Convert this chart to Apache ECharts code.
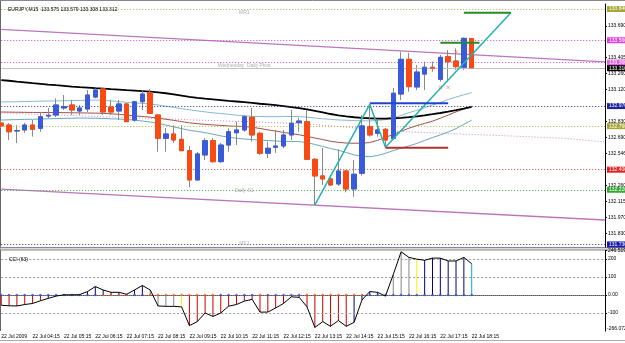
<!DOCTYPE html>
<html lang="en">
<head>
<meta charset="UTF-8">
<title>EURJPY,M15</title>
<style>
    html, body { margin: 0; padding: 0; background: #fff; }
    #main { width: 625px; height: 343px; }
</style>
</head>
<body>
<div id="main"></div>
<script src="https://cdn.jsdelivr.net/npm/echarts@6/dist/echarts.min.js"></script>
<script>
    var timeLabels = ['22 Jul 2009', '22 Jul 04:15', '22 Jul 05:15', '22 Jul 06:15', '22 Jul 07:15',
        '22 Jul 08:15', '22 Jul 09:15', '22 Jul 10:15', '22 Jul 11:15', '22 Jul 12:15', '22 Jul 13:15',
        '22 Jul 14:15', '22 Jul 15:15', '22 Jul 16:15', '22 Jul 17:15', '22 Jul 18:15'];

    // [open, close, low, high], 15 min bars from 03:15 to 18:15
    var ohlc = [
        [132.818, 132.792, 132.774, 132.845], [132.800, 132.740, 132.666, 132.818],
        [132.747, 132.751, 132.639, 132.800], [132.756, 132.800, 132.731, 132.821],
        [132.800, 132.762, 132.696, 132.845], [132.771, 132.875, 132.740, 132.908],
        [132.881, 132.886, 132.863, 132.953], [132.890, 132.980, 132.872, 133.040],
        [132.953, 132.966, 132.935, 133.069], [132.980, 132.935, 132.890, 133.025],
        [132.926, 132.953, 132.890, 132.980], [132.944, 133.069, 132.917, 133.114],
        [133.051, 133.114, 133.040, 133.129], [133.123, 132.917, 132.890, 133.129],
        [132.962, 132.917, 132.890, 133.025], [132.926, 132.989, 132.845, 133.025],
        [132.989, 132.830, 132.827, 132.998], [132.845, 133.009, 132.830, 133.016],
        [133.009, 133.078, 132.935, 133.114], [133.090, 132.905, 132.899, 133.123],
        [132.890, 132.681, 132.561, 132.899], [132.681, 132.720, 132.561, 132.774],
        [132.720, 132.666, 132.639, 132.800], [132.672, 132.570, 132.568, 132.800],
        [132.570, 132.308, 132.242, 132.612], [132.308, 132.541, 132.301, 132.559],
        [132.532, 132.660, 132.487, 132.684], [132.660, 132.472, 132.460, 132.684],
        [132.472, 132.621, 132.460, 132.639], [132.621, 132.740, 132.561, 132.771],
        [132.731, 132.756, 132.621, 132.830], [132.756, 132.875, 132.740, 132.890],
        [132.870, 132.711, 132.651, 132.953], [132.726, 132.547, 132.532, 132.740],
        [132.547, 132.592, 132.505, 132.651], [132.601, 132.612, 132.550, 132.756],
        [132.612, 132.711, 132.592, 132.756], [132.711, 132.816, 132.666, 132.935],
        [132.821, 132.836, 132.740, 132.863], [132.830, 132.493, 132.487, 132.935],
        [132.493, 132.344, 132.084, 132.505], [132.344, 132.317, 132.263, 132.594],
        [132.317, 132.263, 132.254, 132.352], [132.272, 132.388, 132.254, 132.583],
        [132.388, 132.227, 132.197, 132.397], [132.227, 132.359, 132.158, 132.487],
        [132.368, 132.792, 132.346, 132.890], [132.785, 132.711, 132.696, 132.985],
        [132.726, 132.756, 132.696, 132.845], [132.762, 132.666, 132.601, 132.774],
        [132.681, 133.085, 132.666, 133.132], [133.078, 133.389, 133.025, 133.457],
        [133.389, 133.144, 133.099, 133.448], [133.141, 133.275, 133.114, 133.338],
        [133.257, 133.318, 133.114, 133.368], [133.318, 133.309, 133.278, 133.368],
        [133.210, 133.407, 133.189, 133.428], [133.413, 133.368, 133.189, 133.473],
        [133.374, 133.323, 133.293, 133.488], [133.318, 133.577, 133.293, 133.586],
        [133.575, 133.312, 133.308, 133.579]
    ];

    // moving averages
    var maBlack = [133.203, 133.197, 133.189, 133.183, 133.176, 133.170, 133.163, 133.157, 133.152, 133.145,
        133.140, 133.136, 133.131, 133.127, 133.122, 133.118, 133.113, 133.109, 133.104, 133.099,
        133.093, 133.085, 133.075, 133.064, 133.053, 133.043, 133.036, 133.030, 133.024, 133.017,
        133.011, 133.005, 132.999, 132.991, 132.985, 132.978, 132.970, 132.961, 132.952, 132.940,
        132.927, 132.913, 132.899, 132.887, 132.878, 132.870, 132.865, 132.861, 132.858, 132.858,
        132.861, 132.865, 132.871, 132.878, 132.887, 132.897, 132.908, 132.920, 132.933, 132.947, 132.964];
    var maBrown = [132.917, 132.916, 132.915, 132.914, 132.913, 132.913, 132.912, 132.912, 132.911, 132.910,
        132.909, 132.908, 132.907, 132.905, 132.901, 132.896, 132.889, 132.883, 132.877, 132.871,
        132.862, 132.852, 132.842, 132.831, 132.820, 132.812, 132.807, 132.801, 132.797, 132.792,
        132.789, 132.786, 132.781, 132.769, 132.757, 132.746, 132.734, 132.723, 132.713, 132.699,
        132.684, 132.670, 132.655, 132.645, 132.639, 132.637, 132.637, 132.643, 132.663, 132.689,
        132.717, 132.745, 132.772, 132.795, 132.815, 132.835, 132.861, 132.889, 132.918, 132.944, 132.969];
    var maLightA = [133.007, 133.008, 133.009, 133.011, 133.012, 133.014, 133.016, 133.016, 133.018, 133.019,
        133.021, 133.022, 133.024, 133.023, 133.016, 133.010, 133.004, 132.999, 132.994, 132.989,
        132.980, 132.969, 132.958, 132.947, 132.937, 132.927, 132.918, 132.910, 132.903, 132.896,
        132.889, 132.883, 132.878, 132.876, 132.875, 132.875, 132.876, 132.877, 132.876, 132.870,
        132.863, 132.856, 132.851, 132.846, 132.843, 132.840, 132.838, 132.837, 132.841, 132.849,
        132.863, 132.885, 132.911, 132.932, 132.955, 132.980, 133.002, 133.029, 133.051, 133.071, 133.090];
    var maLightB = [132.845, 132.847, 132.849, 132.851, 132.852, 132.854, 132.856, 132.858, 132.860, 132.861,
        132.863, 132.862, 132.861, 132.859, 132.856, 132.854, 132.850, 132.844, 132.836, 132.827,
        132.816, 132.800, 132.784, 132.768, 132.753, 132.743, 132.732, 132.718, 132.703, 132.691,
        132.682, 132.675, 132.670, 132.665, 132.661, 132.657, 132.654, 132.653, 132.651, 132.643,
        132.626, 132.608, 132.590, 132.574, 132.554, 132.533, 132.521, 132.516, 132.527, 132.547,
        132.571, 132.593, 132.613, 132.635, 132.662, 132.688, 132.712, 132.738, 132.768, 132.806, 132.844];

    // drawn objects: [bar index, price]
    var channelTop = [[0, 133.657], [77, 133.366]];
    var channelBottom = [[0, 132.226], [77, 131.949]];
    var pinkCurve = [[0, 132.908], [25, 132.845], [38, 132.814], [52, 132.738], [65, 132.702], [72, 132.680], [77, 132.648]];
    var zigzag = [[40, 132.084], [47, 132.985], [49, 132.601], [65, 133.807]];
    var greenTop = [[59, 133.807], [65, 133.807]];
    var greenMid = [[56, 133.538], [61, 133.538]];
    var blueBar = [[47, 132.995], [57, 132.995]];
    var redBar = [[49, 132.597], [57, 132.597]];
    var fractals = [[56, 133.138], [57, 133.138], [58, 133.457]];
    var notes = [[31, 133.804, 'MR1'], [31, 133.329, 'Wednesday  Daily Pivot'],
        [31, 132.209, 'Daily S1'], [31, 131.734, 'MS1']];

    // horizontal levels
    var levelPrices = [133.841, 133.560, 133.356, 132.970, 132.790, 132.400, 132.224, 131.730, 133.312];
    var levelColors = ['#b0b040', '#c848c8', '#c848c8', '#303090', '#b0b040', '#a85050', '#40a040', '#3030a8', '#c0c0c0'];
    var levelBoxColors = ['#a6a632', '#e040e0', '#e060e0', '#22229a', '#a6a632', '#e02020', '#33aa33', '#1a1ab0', '#000000'];

    var priceTicks = [133.690, 133.405, 133.260, 133.120, 132.830, 132.690, 132.546, 132.260, 132.115, 131.970, 131.830];

    // CCI (63)
    var cci = [-57, -60, -61, -53, -47, -32, -19, -6, 1, 1, 2, 19, 47, 28, 15, 15, 4, 28, 53, 28,
        -61, -63, -63, -66, -170, -148, -100, -119, -100, -62, -53, -34, -24, -95, -95, -72, -47, -10, -13, -66,
        -180, -148, -174, -142, -174, -152, -28, 19, 15, -6, 114, 240, 209, 199, 193, 205, 205, 189, 189, 209, 174];
    var cciBarState = 'rrrrrrnnnnnnnnnnnnnggggyrrrrrrrrrrrrrrrrrrrrrnnnnggggynnnnnn';
    var cciDotState = 'bbbbbbbbbbbbboooobbooooooooobbbbbobbbbboooooooobbbbbbbbbbbbbbo';
    var cciTicks = [246.5194, 200, 100, 0, -100];
    var cciLevels = [200, 100, -100];

    var FONT = 'Liberation Sans';
    var N = 78;
    var cats = [];
    for (var i = 0; i < N; i++) cats.push('b' + i);

    var bodies = ohlc.map(function (d) {
        return [d[0], d[1], Math.min(d[0], d[1]), Math.max(d[0], d[1])];
    });

    var barColors = {r: '#c40000', n: '#00007a', g: '#858585', y: '#f4f400'};
    var dotColors = {b: '#3050e0', o: '#ff5010'};

    var levelData = levelPrices.map(function (p, k) {
        return {
            yAxis: p,
            lineStyle: {color: levelColors[k], width: 1, type: k === 8 ? 'solid' : [1, 2]},
            label: {backgroundColor: levelBoxColors[k]}
        };
    });
    levelData.splice(6, 0, {
        yAxis: 132.400,
        lineStyle: {opacity: 0},
        label: {position: 'insideEndTop', formatter: '(888.8) - 132.388', color: '#a05050',
            backgroundColor: 'transparent', padding: [0, 10, 0, 0], distance: 1}
    });

    function seg(data, color, width, type) {
        return {
            type: 'line', xAxisIndex: 0, yAxisIndex: 0, data: data, symbol: 'none', silent: true,
            lineStyle: {color: color, width: width, type: type || 'solid'}, z: 3
        };
    }

    var myChart = echarts.init(document.getElementById('main'));

    var option = {
        animation: false,
        backgroundColor: '#fff',
        title: [
            {text: 'EURJPY,M15  133.575 133.579 133.308 133.312', left: 3, top: 2,
                textStyle: {fontSize: 5, fontWeight: 'normal', color: '#000', fontFamily: FONT}},
            {text: 'CCI (63)', left: 4, top: 252,
                textStyle: {fontSize: 5, fontWeight: 'normal', color: '#000', fontFamily: FONT}}
        ],
        grid: [
            {left: 1.22, right: 20, top: 4, bottom: 96, outerBoundsMode: 'none'},
            {left: 1.22, right: 20, top: 250.5, bottom: 12, outerBoundsMode: 'none'}
        ],
        xAxis: [
            {
                gridIndex: 0, type: 'category', data: cats, boundaryGap: false,
                axisLine: {show: false}, axisTick: {show: false}, axisLabel: {show: false}, splitLine: {show: false}
            },
            {
                gridIndex: 1, type: 'category', data: cats, boundaryGap: false,
                axisLine: {lineStyle: {color: '#555', type: [1, 1]}},
                axisTick: {show: false},
                axisLabel: {
                    interval: 3, align: 'left', fontSize: 5, margin: 3, color: '#000', fontFamily: FONT,
                    formatter: function (v, idx) {
                        return (idx % 4 === 0 && idx / 4 < timeLabels.length) ? timeLabels[idx / 4] : '';
                    }
                },
                splitLine: {show: false}
            }
        ],
        yAxis: [
            {
                gridIndex: 0, type: 'value', position: 'right', min: 131.707, max: 133.885,
                splitLine: {show: false},
                axisLine: {show: true, lineStyle: {color: '#000'}},
                axisTick: {show: true, length: 2, customValues: priceTicks, lineStyle: {color: '#000'}},
                axisLabel: {
                    customValues: priceTicks, fontSize: 5, margin: 3, color: '#000', fontFamily: FONT,
                    formatter: function (v) { return v.toFixed(3); }
                }
            },
            {
                gridIndex: 1, type: 'value', position: 'right', min: -200, max: 247.2,
                splitLine: {show: false},
                axisLine: {show: true, lineStyle: {color: '#000'}},
                axisTick: {show: true, length: 2, customValues: cciTicks, lineStyle: {color: '#000'}},
                axisLabel: {
                    customValues: cciTicks, fontSize: 5, margin: 3, color: '#000', fontFamily: FONT,
                    formatter: function (v) {
                        if (v === 0) return '0.00';
                        if (v > 240) return '246.5194';
                        return String(v);
                    }
                }
            }
        ],
        series: [
            seg(channelTop, '#bb77bb', 1.3),
            seg(channelBottom, '#bb77bb', 1.3),
            seg(pinkCurve, '#cc88cc', 1, [1, 2]),
            seg(maLightA, '#88bbcc', 1),
            seg(maLightB, '#6aa6c0', 1),
            seg(maBrown, '#a0524d', 1),
            seg(maBlack, '#000000', 1.8),
            {
                name: 'wicks', type: 'candlestick', xAxisIndex: 0, yAxisIndex: 0, data: ohlc,
                barWidth: 5, silent: true, z: 4,
                itemStyle: {color: 'transparent', color0: 'transparent', borderColor: '#8a8a8a', borderColor0: '#8a8a8a', borderWidth: 1},
                markLine: {
                    symbol: 'none', silent: true, animation: false,
                    label: {
                        position: 'end', distance: 2, fontSize: 5, color: '#fff', fontFamily: FONT,
                        padding: [1, 3, 0, 2],
                        formatter: function (p) { return Number(p.value).toFixed(3); }
                    },
                    data: levelData
                }
            },
            {
                name: 'bodies', type: 'candlestick', xAxisIndex: 0, yAxisIndex: 0, data: bodies,
                barWidth: 5, silent: true, z: 5,
                itemStyle: {color: '#3a5bd9', color0: '#fa4a14', borderColor: '#3a5bd9', borderColor0: '#fa4a14', borderWidth: 1}
            },
            Object.assign(seg(zigzag, '#22b3b3', 1.5), {z: 6}),
            Object.assign(seg(greenTop, '#2a8a2a', 2), {z: 6}),
            Object.assign(seg(greenMid, '#2a8a2a', 2), {z: 6}),
            Object.assign(seg(blueBar, '#2244cc', 2), {z: 6}),
            Object.assign(seg(redBar, '#b03030', 2), {z: 6}),
            {
                type: 'scatter', xAxisIndex: 0, yAxisIndex: 0, data: fractals, silent: true, z: 7,
                symbol: 'path://M0,1L1,0L5,4L9,0L10,1L6,5L10,9L9,10L5,6L1,10L0,9L4,5Z',
                symbolSize: 4, itemStyle: {color: '#e07070'}
            },
            {
                type: 'scatter', xAxisIndex: 0, yAxisIndex: 0, silent: true, z: 7, symbolSize: 0,
                data: notes.map(function (n) { return {value: [n[0], n[1]], name: n[2]}; }),
                label: {show: true, position: 'inside', formatter: '{b}', fontSize: 5, color: '#999', fontFamily: FONT}
            },
            {
                type: 'bar', xAxisIndex: 1, yAxisIndex: 1, barWidth: 1, silent: true,
                data: cci.map(function (v, k) { return {value: v, itemStyle: {color: barColors[cciBarState[k]]}}; })
            },
            {
                type: 'scatter', xAxisIndex: 1, yAxisIndex: 1, symbolSize: 2.5, silent: true, z: 4,
                data: cci.map(function (v, k) { return {value: [k, 0], itemStyle: {color: dotColors[cciDotState[k]]}}; })
            },
            {
                type: 'line', xAxisIndex: 1, yAxisIndex: 1, data: cci, symbol: 'none', silent: true, z: 5,
                lineStyle: {color: '#000', width: 1},
                markLine: {
                    symbol: 'none', silent: true, animation: false, label: {show: false},
                    lineStyle: {color: '#999', width: 1, type: [2, 2]},
                    data: cciLevels.map(function (v) { return {yAxis: v}; })
                }
            }
        ],
        graphic: [
            {type: 'line', shape: {x1: 0.5, y1: 0, x2: 0.5, y2: 331}, style: {stroke: '#666', lineWidth: 1}, silent: true},
            {type: 'line', shape: {x1: 0, y1: 0.5, x2: 625, y2: 0.5}, style: {stroke: '#888', lineWidth: 1}, silent: true},
            {type: 'rect', shape: {x: 0, y: 247.5, width: 625, height: 2.5}, style: {fill: '#dcdcdc', stroke: '#888', lineWidth: 1}, silent: true},
            {type: 'line', shape: {x1: 0, y1: 340.5, x2: 625, y2: 340.5}, style: {stroke: '#aaa', lineWidth: 1}, silent: true},
            {type: 'text', left: 607, top: 326, style: {text: '-266.072', fontSize: 5, fill: '#000', fontFamily: FONT}, silent: true}
        ]
    };
    myChart.setOption(option);
</script>
</body>
</html>
